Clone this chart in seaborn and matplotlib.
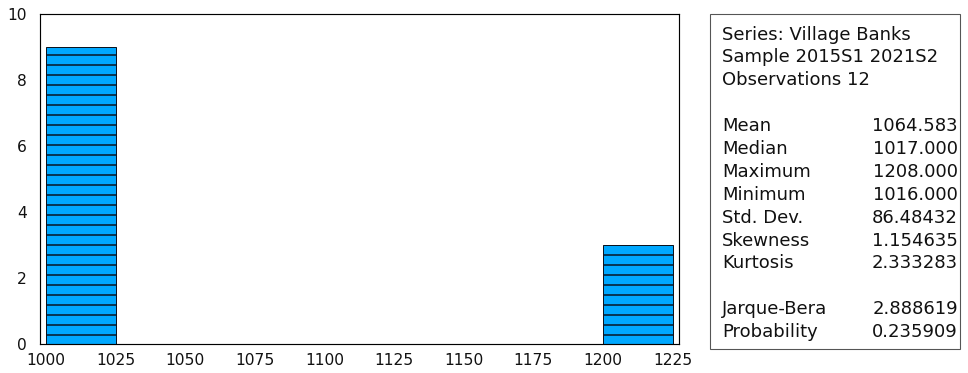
import numpy as np
import pandas as pd
import matplotlib
matplotlib.use("Agg")
import matplotlib.pyplot as plt
from matplotlib.patches import Rectangle
import seaborn as sns

# Village Banks, semi-annual observations
village_banks = [1016, 1016, 1016, 1017, 1017, 1017, 1017, 1017, 1018,
                 1208, 1208, 1208]
bin_edges = [1000, 1025, 1050, 1075, 1100, 1125, 1150, 1175, 1200, 1225]
x_ticks = [1000, 1025, 1050, 1075, 1100, 1125, 1150, 1175, 1200, 1225]
y_ticks = [0, 2, 4, 6, 8, 10]

header_lines = ["Series: Village Banks", "Sample 2015S1 2021S2", "Observations 12"]
stat_names = ["Mean", "Median", "Maximum", "Minimum", "Std. Dev.", "Skewness",
              "Kurtosis", "", "Jarque-Bera", "Probability"]
stat_values = ["1064.583", "1017.000", "1208.000", "1016.000", "86.48432",
               "1.154635", "2.333283", "", "2.888619", "0.235909"]

W, H, DPI = 969, 373, 60
sns.set_style("white")
plt.rcParams["font.family"] = ["DejaVu Sans"]
plt.rcParams["hatch.linewidth"] = 1.8
plt.rcParams["hatch.color"] = "#0b1420"

fig = plt.figure(figsize=(W / DPI, H / DPI), dpi=DPI)
fig.patch.set_facecolor("white")

def px_x(x):
    return x / W

def px_y(y):
    return 1 - y / H

ax = fig.add_axes([px_x(39.5), px_y(344), px_x(679) - px_x(39.5), px_y(14) - px_y(344)])
df = pd.DataFrame({"value": village_banks})
sns.histplot(data=df, x="value", bins=bin_edges, ax=ax, stat="count",
             color="#00A8FF", edgecolor="#0b1420", linewidth=1.2,
             hatch="-", alpha=1.0)

ax.set_xlim(997.67, 1227.26)
ax.set_ylim(0, 10)
ax.set_xticks(x_ticks)
ax.set_yticks(y_ticks)
ax.set_xlabel("")
ax.set_ylabel("")
for s in ax.spines.values():
    s.set_visible(True)
    s.set_color("black")
    s.set_linewidth(1.4)
ax.tick_params(axis="both", direction="out", length=9, width=1.2,
               color="#222222", labelsize=18.6, labelcolor="#111111")
ax.tick_params(axis="x", pad=2)
ax.tick_params(axis="y", pad=6)
ax.grid(False)

# statistics panel
box = Rectangle((px_x(710.5), px_y(348.5)), px_x(960.5) - px_x(710.5),
                px_y(14) - px_y(348.5), transform=fig.transFigure,
                facecolor="white", edgecolor="#555555", linewidth=1.3)
fig.add_artist(box)

fs = 21.6
step = 22.9
base = 39.5
for i, line in enumerate(header_lines):
    fig.text(px_x(722), px_y(base + i * step), line, fontsize=fs,
             ha="left", va="baseline", color="#111111")
for j, (name, val) in enumerate(zip(stat_names, stat_values)):
    y = base + (j + 4) * step
    if name:
        fig.text(px_x(722), px_y(y), name, fontsize=fs, ha="left",
                 va="baseline", color="#111111")
        fig.text(px_x(958), px_y(y), val, fontsize=fs, ha="right",
                 va="baseline", color="#111111")

fig.savefig("out.png", dpi=DPI, facecolor="white")
